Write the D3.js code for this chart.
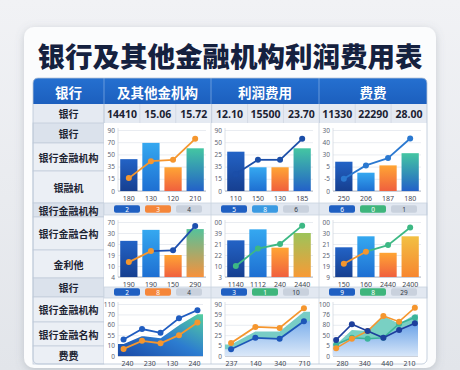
<!DOCTYPE html>
<html>
<head>
<meta charset="utf-8">
<script src="https://cdn.jsdelivr.net/npm/d3@7"></script>
<style>
html, body { margin: 0; padding: 0; background: #e9ebef; }
svg { display: block; }
text { font-family: "Noto Sans CJK SC", "Noto Sans", sans-serif; }
</style>
</head>
<body>
<svg id="chart"></svg>
<script>
// ---- data ----
var titleText = "银行及其他金融机构利润费用表";
var headerCols = ["银行", "及其他金机构", "利润费用", "费费"];
var valueLabel = "银行";
var valueCells = ["14410", "15.06", "15.72", "12.10", "15500", "23.70", "11330", "22290", "28.00"];
var rowLabels = ["银行", "银行金融机构", "银融机", "银行金融机构", "银行金融合构", "金利他", "银行", "银行金融机构", "银行金融名构", "费费"];

// bar + line charts (rows 1 and 2, three per row)
var barCats = [
  ["180", "130", "120", "210"],
  ["110", "150", "130", "185"],
  ["250", "206", "187", "180"],
  ["190", "190", "150", "290"],
  ["1140", "1112", "240", "2440"],
  ["150", "160", "2440", "2400"]
];
var barValues = [
  [47, 71, 35, 63],
  [58, 35, 35, 63],
  [24, 15, 21, 31],
  [46, 60, 28, 61],
  [40, 52, 32, 48],
  [27, 37, 22, 37]
];
var lineValues = [
  [19, 44, 46, 77],
  [25, 46, 46, 77],
  [10, 21, 27, 43],
  [19, 33, 34, 65],
  [12, 31, 36, 56],
  [12, 23, 29, 45]
];
var barMax = [90, 90, 50, 70, 60, 50];
var barTicks = [
  ["0", "15", "35", "50", "70", "90"],
  ["0", "15", "35", "25", "50", "90"],
  ["0", "-5", "5", "30", "40", "30"],
  ["4", "10", "19", "40", "30", "70"],
  ["3", "10", "22", "21", "39", "00"],
  ["9", "19", "25", "21", "30", "00"]
];
var pillLabels = [["2", "3", "4"], ["5", "8", "6"], ["6", "0", "1"], ["2", "8", "4"], ["3", "1", "10"], ["9", "8", "29"]];

// area charts (row 3)
var areaCats = [["240", "230", "130", "240"], ["237", "140", "340", "710"], ["280", "340", "440", "210"]];
var areaMax = [110, 100, 100];
var areaTicks = [
  ["0", "10", "55", "60", "70", "110"],
  ["0", "5", "25", "50", "59", "90"],
  ["0", "5", "50", "80", "76", "100"]
];
var a1Blue = [35, 57, 49, 80, 97];
var a1Orange = [15, 32, 27, 44, 71];
var a1Fill = [27, 44, 39, 67, 90];
var a2Orange = [25, 56, 54, 92];
var a2Blue = [13, 35, 33, 67];
var a2Band = [22, 47, 47, 85];
var a3Navy = [31, 61, 48, 35, 50, 63];
var a3Orange = [15, 33, 48, 77, 66, 93];
var a3Teal = [22, 35, 33, 35, 62, 74];
var a3BandTop = [22, 50, 48, 77, 62, 80];
var a3BlueTop = [22, 35, 33, 37, 53, 63];

// ---- styles ----
var blueDark = "#1d4fae", orange = "#f5962e", green = "#3db884", navy = "#1e3f9c";
var pillColors = [
  ["#1f5fc2", "#f5863a", "#c9d1dd"],
  ["#1f5fc2", "#3a9ae2", "#c9d1dd"],
  ["#1f5fc2", "#3eb57c", "#c9d1dd"],
  ["#1f5fc2", "#f5863a", "#c9d1dd"],
  ["#1f5fc2", "#3eb57c", "#c9d1dd"],
  ["#1f5fc2", "#3eb57c", "#c9d1dd"]
];
var bar4Grad = ["gB4a", "gB4a", "gB4a", "gB4b", "gB4c", "gB4d"];
var segColors = [
  [orange, orange, orange],
  ["#1b4ea8", "#1b4ea8", "#1b4ea8"],
  ["#2a78d0", "#2a78d0", "#2a78d0"],
  [orange, blueDark, blueDark],
  [green, green, green],
  [orange, green, green]
];
var dotColors = [
  [orange, orange, orange, orange],
  ["#1b4ea8", "#1b4ea8", "#1b4ea8", "#1b4ea8"],
  ["#2a78d0", "#2a78d0", "#2a78d0", "#2a78d0"],
  [orange, orange, blueDark, blueDark],
  [green, green, green, green],
  [orange, orange, green, green]
];

// layout
var W = 460, H = 370;
var colX = [33, 104, 211, 319, 427];
var rowY = [123, 143, 171, 203, 217, 250, 278, 297, 322, 346, 364];
var chartRows = [{top: 130, base: 191}, {top: 222, base: 277}, {top: 304, base: 356}];
var pillY = [209, 292];

var svg = d3.select("#chart").attr("width", W).attr("height", H);
var defs = svg.append("defs");

function grad(id, stops, x1, y1, x2, y2) {
  var g = defs.append("linearGradient").attr("id", id)
    .attr("x1", x1).attr("y1", y1).attr("x2", x2).attr("y2", y2);
  stops.forEach(function(s, k) {
    g.append("stop").attr("offset", k / (stops.length - 1)).attr("stop-color", s);
  });
}
grad("gBg", ["#f1f2f5", "#e2e5ea"], 0, 0, 0, 1);
grad("gHead", ["#2570d0", "#1c5fbe"], 0, 0, 0, 1);
grad("gB1", ["#2363c6", "#163f90"], 0, 0, 0, 1);
grad("gB2", ["#35a8f0", "#1e6fd2"], 0, 0, 0, 1);
grad("gB3", ["#ffa534", "#f0603e"], 0, 0, 0, 1);
grad("gB4a", ["#44c6a2", "#2361c8"], 0, 0, 0, 1);
grad("gB4b", ["#56c29a", "#f7913c"], 0, 0, 0, 1);
grad("gB4c", ["#9cc45a", "#f89a36"], 0, 0, 0, 1);
grad("gB4d", ["#f2c043", "#f7862f"], 0, 0, 0, 1);
grad("gA1", ["#1a49a6", "#2c7cd0", "#55d09e"], 0, 1, 1, 0);
grad("gA2", ["#7eb0ec", "#dbe8f8"], 0, 0, 0, 1);
grad("gA3", ["#6aa2e8", "#d7e6f8"], 0, 0, 0, 1);

var shadow = defs.append("filter").attr("id", "shadow").attr("x", -0.1).attr("y", -0.1).attr("width", 1.2).attr("height", 1.2);
shadow.append("feDropShadow").attr("dx", 0).attr("dy", 2).attr("stdDeviation", 4)
  .attr("flood-color", "#6b7480").attr("flood-opacity", 0.3);

// background + card
svg.append("rect").attr("width", W).attr("height", H).attr("fill", "url(#gBg)");
svg.append("rect").attr("x", 24).attr("y", 27).attr("width", 412).attr("height", 341)
  .attr("rx", 10).attr("fill", "#fbfcfd").attr("filter", "url(#shadow)");

// title
svg.append("text").attr("x", 230).attr("y", 55).attr("text-anchor", "middle")
  .attr("dominant-baseline", "central").attr("fill", "#15213f")
  .style("font-size", "27.5px").style("font-weight", 900).text(titleText);

// header row
svg.append("path").attr("fill", "url(#gHead)")
  .attr("d", "M33,104 V83 Q33,78 38,78 H422 Q427,78 427,83 V104 Z");
svg.selectAll(".hcol").data(headerCols).join("text").attr("class", "hcol")
  .attr("x", function(d, k) { return (colX[k] + colX[k + 1]) / 2; })
  .attr("y", 91.5).attr("text-anchor", "middle").attr("dominant-baseline", "central")
  .attr("fill", "#fff").style("font-size", "13.5px").style("font-weight", 700)
  .text(function(d) { return d; });
svg.selectAll(".hsep").data([104, 211, 319]).join("line").attr("class", "hsep")
  .attr("x1", function(d) { return d; }).attr("x2", function(d) { return d; })
  .attr("y1", 78).attr("y2", 104).attr("stroke", "#7aa6e0").attr("stroke-width", 0.8);

// value row
svg.append("rect").attr("x", 33).attr("y", 104).attr("width", 394).attr("height", 19).attr("fill", "#e5eaf2");
var sub = d3.scaleBand().domain(d3.range(9)).range([104, 427]);
svg.selectAll(".vcell").data(valueCells).join("text").attr("class", "vcell")
  .attr("x", function(d, k) { return sub(k) + sub.bandwidth() / 2; })
  .attr("y", 113.5).attr("text-anchor", "middle").attr("dominant-baseline", "central")
  .attr("fill", "#1b2232").style("font-size", "10.5px").style("font-weight", 700)
  .style("font-family", "'Noto Sans', sans-serif").text(function(d) { return d; });
svg.append("text").attr("x", 68.5).attr("y", 113.5).attr("text-anchor", "middle")
  .attr("dominant-baseline", "central").attr("fill", "#1b2232")
  .style("font-size", "10px").style("font-weight", 700).text(valueLabel);
svg.selectAll(".vsep").data(d3.range(1, 9)).join("line").attr("class", "vsep")
  .attr("x1", function(k) { return sub(k); }).attr("x2", function(k) { return sub(k); })
  .attr("y1", 104).attr("y2", 123)
  .attr("stroke", function(k) { return k % 3 === 0 ? "#b9c5d5" : "#cfd7e2"; }).attr("stroke-width", 0.8);
svg.append("line").attr("x1", 104).attr("x2", 104).attr("y1", 104).attr("y2", 123).attr("stroke", "#b9c5d5");

// left label column
var darkRows = [0, 3, 6];
svg.selectAll(".lrow").data(rowLabels).join("rect").attr("class", "lrow")
  .attr("x", 33).attr("width", 71)
  .attr("y", function(d, k) { return rowY[k]; })
  .attr("height", function(d, k) { return rowY[k + 1] - rowY[k]; })
  .attr("fill", function(d, k) { return darkRows.indexOf(k) >= 0 ? "#dbe2ec" : "#ebeff5"; })
  .attr("stroke", "#c3cddb").attr("stroke-width", 0.8);
svg.selectAll(".ltxt").data(rowLabels).join("text").attr("class", "ltxt")
  .attr("x", 68.5).attr("y", function(d, k) { return (rowY[k] + rowY[k + 1]) / 2; })
  .attr("text-anchor", "middle").attr("dominant-baseline", "central")
  .attr("fill", "#1d2433").style("font-size", "10px").style("font-weight", 700)
  .text(function(d) { return d; });

// chart panels + pill rows
svg.append("rect").attr("x", 104).attr("y", 123).attr("width", 323).attr("height", 241).attr("fill", "#fff");
[[203, 215], [287, 298]].forEach(function(r) {
  svg.append("rect").attr("x", 104).attr("y", r[0]).attr("width", 323).attr("height", r[1] - r[0])
    .attr("fill", "#e2e8f1").attr("stroke", "#cbd4e0").attr("stroke-width", 0.8);
});
svg.selectAll(".psep").data([211, 319]).join("line").attr("class", "psep")
  .attr("x1", function(d) { return d; }).attr("x2", function(d) { return d; })
  .attr("y1", 123).attr("y2", 364).attr("stroke", "#cbd4e0").attr("stroke-width", 0.8);
svg.append("rect").attr("x", 33).attr("y", 78).attr("width", 394).attr("height", 286)
  .attr("rx", 5).attr("fill", "none").attr("stroke", "#b9c5d5").attr("stroke-width", 0.8);

function drawPills(x0, yc, labels, colors) {
  var g = svg.append("g");
  g.selectAll("rect").data(labels).join("rect")
    .attr("x", function(d, k) { return x0 + 10 + k * 31; }).attr("y", yc - 3.8)
    .attr("width", 26).attr("height", 7.6).attr("rx", 2)
    .attr("fill", function(d, k) { return colors[k]; });
  g.selectAll("text").data(labels).join("text")
    .attr("x", function(d, k) { return x0 + 23 + k * 31; }).attr("y", yc)
    .attr("text-anchor", "middle").attr("dominant-baseline", "central")
    .attr("fill", function(d, k) { return k === 2 ? "#333a46" : "#fff"; })
    .style("font-size", "6.5px").style("font-family", "'Noto Sans', sans-serif")
    .text(function(d) { return d; });
}

function drawFrame(g, left, right, top, base, max, labels, cats, xLab) {
  var y = d3.scaleLinear().domain([0, max]).range([base, top]);
  var tv = labels.map(function(d, k) { return max * k / (labels.length - 1); });
  var ax = g.append("g").attr("transform", "translate(" + left + ",0)")
    .call(d3.axisLeft(y).tickValues(tv).tickSize(-(right - left))
      .tickFormat(function(d, k) { return labels[k]; }));
  ax.select(".domain").remove();
  ax.selectAll(".tick line").attr("stroke", "#e3e7ee").attr("stroke-width", 0.8);
  ax.selectAll(".tick text").attr("x", -3).attr("fill", "#5d6573")
    .style("font-size", "6.5px").style("font-family", "'Noto Sans', sans-serif");
  g.append("line").attr("x1", left).attr("x2", left).attr("y1", top - 2).attr("y2", base)
    .attr("stroke", "#d3d9e2").attr("stroke-width", 0.8);
  g.append("line").attr("x1", left).attr("x2", right).attr("y1", base).attr("y2", base)
    .attr("stroke", "#a9b2bf").attr("stroke-width", 0.9);
  var bx = g.append("g").attr("transform", "translate(0," + base + ")")
    .call(d3.axisBottom(xLab).tickSize(0).tickFormat(function(d, k) { return cats[k]; }));
  bx.select(".domain").remove();
  bx.selectAll(".tick text").attr("y", 5).attr("fill", "#3f4652")
    .style("font-size", "7px").style("font-family", "'Noto Sans', sans-serif");
  return y;
}

// bar + line charts
barValues.forEach(function(vals, i) {
  var x0 = colX[1 + (i % 3)];
  var row = chartRows[Math.floor(i / 3)];
  var left = x0 + 14, right = x0 + 102;
  var g = svg.append("g");
  var x = d3.scaleBand().domain(d3.range(4)).range([left, right]).paddingInner(0.22).paddingOuter(0.1);
  var y = drawFrame(g, left, right, row.top, row.base, barMax[i], barTicks[i], barCats[i], x);
  var fills = ["url(#gB1)", "url(#gB2)", "url(#gB3)", "url(#" + bar4Grad[i] + ")"];
  g.selectAll(".bar").data(vals).join("rect").attr("class", "bar")
    .attr("x", function(d, k) { return x(k); }).attr("width", x.bandwidth())
    .attr("y", function(d) { return y(d); })
    .attr("height", function(d) { return row.base - y(d); })
    .attr("fill", function(d, k) { return fills[k]; });
  var cx = function(k) { return x(k) + x.bandwidth() / 2; };
  var seg = d3.line().x(function(p) { return cx(p[0]); }).y(function(p) { return y(p[1]); });
  for (var k = 0; k < 3; k++) {
    g.append("path").attr("d", seg([[k, lineValues[i][k]], [k + 1, lineValues[i][k + 1]]]))
      .attr("fill", "none").attr("stroke", segColors[i][k]).attr("stroke-width", 1.8);
  }
  g.selectAll(".dot").data(lineValues[i]).join("circle").attr("class", "dot")
    .attr("cx", function(d, k) { return cx(k); }).attr("cy", function(d) { return y(d); })
    .attr("r", 3).attr("fill", function(d, k) { return dotColors[i][k]; });
  drawPills(x0, pillY[Math.floor(i / 3)], pillLabels[i], pillColors[i]);
});

// area charts
var aRow = chartRows[2];
function areaFrame(c, ptPad, labPad) {
  var x0 = colX[1 + c], left = x0 + 14, right = x0 + 99;
  var g = svg.append("g");
  var xLab = d3.scalePoint().domain(d3.range(4)).range([left, right]).padding(labPad);
  var y = drawFrame(g, left, right, aRow.top, aRow.base, areaMax[c], areaTicks[c], areaCats[c], xLab);
  return {g: g, y: y, left: left, right: right, pad: ptPad};
}
function lineOf(fr, vals, color, width) {
  var x = d3.scalePoint().domain(d3.range(vals.length)).range([fr.left, fr.right]).padding(fr.pad);
  fr.g.append("path").datum(vals)
    .attr("d", d3.line().x(function(d, k) { return x(k); }).y(function(d) { return fr.y(d); }))
    .attr("fill", "none").attr("stroke", color).attr("stroke-width", width || 1.8);
  fr.g.selectAll(null).data(vals).join("circle")
    .attr("cx", function(d, k) { return x(k); }).attr("cy", function(d) { return fr.y(d); })
    .attr("r", 3).attr("fill", color);
}
function areaOf(fr, vals, fill, stroke) {
  var x = d3.scalePoint().domain(d3.range(vals.length)).range([fr.left, fr.right]).padding(fr.pad);
  // stretch the filled area out to the plot edges, keeping the end values
  var pts = vals.map(function(d, k) { return [x(k), d]; });
  pts.unshift([fr.left, vals[0]]);
  pts.push([fr.right, vals[vals.length - 1]]);
  fr.g.append("path").datum(pts)
    .attr("d", d3.area().x(function(p) { return p[0]; }).y0(fr.y(0)).y1(function(p) { return fr.y(p[1]); }))
    .attr("fill", fill);
  if (stroke) {
    fr.g.append("path").datum(pts)
      .attr("d", d3.line().x(function(p) { return p[0]; }).y(function(p) { return fr.y(p[1]); }))
      .attr("fill", "none").attr("stroke", stroke).attr("stroke-width", 1.5);
  }
}

var f1 = areaFrame(0, 0.3, 0.4);
areaOf(f1, a1Fill, "url(#gA1)", "#ffffff");
lineOf(f1, a1Orange, orange);
lineOf(f1, a1Blue, "#1f5cc0");

var f2 = areaFrame(1, 0.25, 0.25);
areaOf(f2, a2Band, "#78cdc6");
areaOf(f2, a2Blue, "url(#gA2)");
lineOf(f2, a2Blue, "#1d56b8");
lineOf(f2, a2Orange, orange);

var f3 = areaFrame(2, 0.2, 0.4);
areaOf(f3, a3BandTop, "#79d0c3");
areaOf(f3, a3BlueTop, "url(#gA3)");
lineOf(f3, a3Teal, "#3bb49a", 1.5);
lineOf(f3, a3Orange, orange, 1.5);
lineOf(f3, a3Navy, navy, 1.6);
</script>
</body>
</html>
